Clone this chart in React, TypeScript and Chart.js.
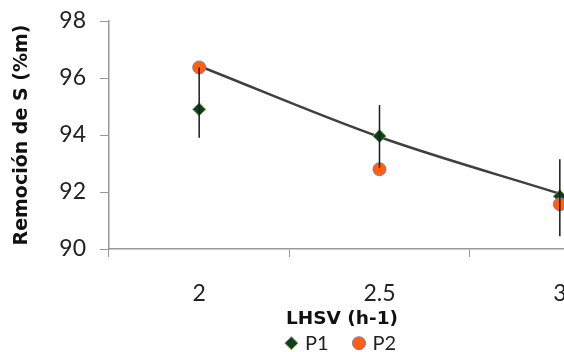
import React, { useEffect, useRef } from 'react';
import { Chart, registerables } from 'chart.js';
Chart.register(...registerables);

const categories = ['2', '2.5', '3'];
const p1Values = [94.9, 93.96, 91.85];
const p2Values = [96.37, 92.8, 91.57];
const trendValues = [96.42, 93.93, 91.94];
const errLow = [93.9, 92.85, 90.45];
const errHigh = [96.37, 95.05, 93.15];
const yMin = 90;
const yMax = 98;
const yStep = 2;

const FONT = 'Lato, "Noto Sans", sans-serif';
const TITLE_FONT = '"DejaVu Sans", "Open Sans", sans-serif';

const errorBars = {
  id: 'errorBars',
  afterDatasetsDraw(chart: any) {
    const { ctx, scales } = chart;
    const xs = scales.x;
    const ys = scales.y;
    ctx.save();
    ctx.strokeStyle = '#1a1a1a';
    ctx.lineWidth = 1.5;
    for (let i = 0; i < categories.length; i++) {
      const x = xs.getPixelForValue(i);
      ctx.beginPath();
      ctx.moveTo(x, ys.getPixelForValue(errLow[i]));
      ctx.lineTo(x, ys.getPixelForValue(errHigh[i]));
      ctx.stroke();
    }
    ctx.restore();
  },
};

export default function App() {
  const ref = useRef<HTMLCanvasElement>(null);
  useEffect(() => {
    if (!ref.current) return;
    const chart = new Chart(ref.current, {
      type: 'line',
      data: {
        labels: categories,
        datasets: [
          {
            label: 'Trend',
            data: trendValues,
            borderColor: '#404040',
            borderWidth: 2.5,
            pointRadius: 0,
            cubicInterpolationMode: 'monotone',
            fill: false,
            order: 3,
          },
          {
            label: 'P1',
            data: p1Values,
            showLine: false,
            pointStyle: 'rectRot',
            pointRadius: 6.5,
            backgroundColor: '#0f3f22',
            borderColor: '#7aa04a',
            borderWidth: 1,
            order: 2,
          },
          {
            label: 'P2',
            data: p2Values,
            showLine: false,
            pointStyle: 'circle',
            pointRadius: 6.5,
            backgroundColor: '#ff6010',
            borderColor: '#8a78b8',
            borderWidth: 1,
            order: 1,
          },
        ],
      },
      options: {
        animation: false,
        responsive: false,
        devicePixelRatio: 1,
        layout: { padding: { top: 21, right: 0, left: 0, bottom: 0 } },
        scales: {
          x: {
            type: 'category',
            offset: true,
            grid: {
              offset: true,
              drawOnChartArea: false,
              drawTicks: true,
              tickLength: 8,
              color: '#999999',
            },
            border: { color: '#999999', width: 1.5 },
            ticks: {
              padding: 23,
              color: '#222222',
              font: { family: FONT, size: 23 },
            },
            afterFit: (s: any) => {
              s.height = 59;
              s.paddingLeft = 0;
              s.paddingRight = 0;
            },
          },
          y: {
            min: yMin,
            max: yMax,
            grid: {
              drawOnChartArea: false,
              drawTicks: true,
              tickLength: 9,
              color: '#999999',
            },
            border: { color: '#999999', width: 1.5 },
            ticks: {
              stepSize: yStep,
              padding: 14,
              color: '#222222',
              font: { family: FONT, size: 23 },
            },
            title: {
              display: true,
              text: 'Remoción de S (%m)',
              color: '#111111',
              font: { family: TITLE_FONT, size: 19, weight: 'bold' },
              padding: { top: 11, bottom: 0 },
            },
            afterFit: (s: any) => {
              s.width = 109;
              s.paddingTop = 0;
              s.paddingBottom = 0;
            },
          },
          yRight: {
            position: 'right',
            display: true,
            grid: { display: false },
            border: { display: false },
            ticks: { display: false },
            afterFit: (s: any) => {
              s.width = 34;
              s.paddingTop = 0;
              s.paddingBottom = 0;
            },
          },
        },
        plugins: {
          title: {
            display: true,
            position: 'bottom',
            text: 'LHSV (h-1)',
            color: '#111111',
            font: { family: TITLE_FONT, size: 18.5, weight: 'bold' },
            padding: { top: 0, bottom: -24 },
            weight: 2000,
          },
          legend: {
            display: true,
            position: 'bottom',
            weight: 3000,
            labels: {
              usePointStyle: true,
              boxWidth: 7,
              boxHeight: 9.2,
              padding: 27,
              color: '#222222',
              font: { family: FONT, size: 20 },
              filter: (item: any) => item.text !== 'Trend',
              sort: (a: any, b: any) => a.datasetIndex - b.datasetIndex,
            },
          },
          tooltip: { enabled: false },
        },
      },
      plugins: [errorBars],
    } as any);
    return () => chart.destroy();
  }, []);
  return (
    <div
      style={{
        position: 'absolute',
        left: 0,
        top: 0,
        width: 564,
        height: 352,
        overflow: 'hidden',
        background: '#ffffff',
      }}
    >
      <canvas ref={ref} width={684} height={365} style={{ display: 'block' }} />
    </div>
  );
}
